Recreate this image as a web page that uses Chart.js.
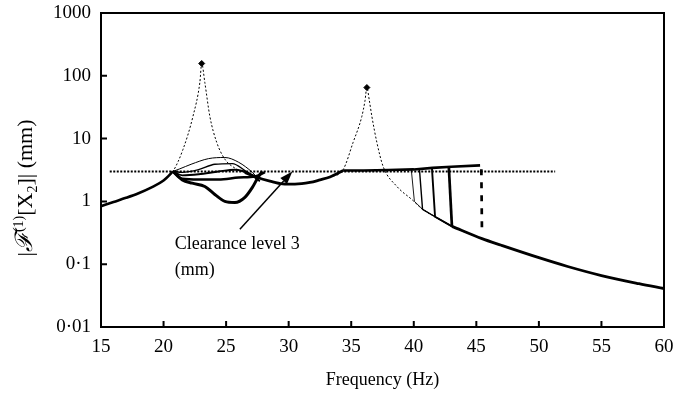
<!DOCTYPE html>
<html>
<head>
<meta charset="utf-8">
<script src="https://cdn.jsdelivr.net/npm/chart.js@4.4.1/dist/chart.umd.min.js"></script>
<style>
  html, body { margin: 0; padding: 0; background: #fff; }
  #wrap { width: 674px; height: 396px; }
</style>
</head>
<body>
<div id="wrap"><canvas id="respChart" width="674" height="396"></canvas></div>
<script>
// axis ticks
const xTicks = [15, 20, 25, 30, 35, 40, 45, 50, 55, 60];
const yTickValues = [0.01, 0.1, 1, 10, 100, 1000];
const yTickLabels = ['0·01', '0·1', '1', '10', '100', '1000'];

// clearance level (mm) and the span of its dotted line (Hz)
const clearance = 3;
const clearanceSpan = [15.7, 51.3];

// linear response [Hz, mm]
const linearResp = [
  [15, 0.84], [16, 0.98], [17, 1.14], [18, 1.35], [19, 1.66], [20, 2.15], [20.75, 3.0],
  [21.55, 6.7], [22.35, 22.6], [22.9, 78], [23.05, 157], [23.3, 78], [23.7, 22.6],
  [24.25, 8.7], [24.9, 4.7], [25.7, 3.4], [26.5, 2.9], [27.5, 2.4], [28.5, 2.1],
  [29.5, 1.9], [30.5, 1.88], [31.7, 2.0], [32.5, 2.2], [33.3, 2.45], [34.35, 3.2],
  [35.15, 8.7], [35.85, 22.6], [36.1, 40], [36.25, 65], [36.45, 40], [36.65, 22.6],
  [37.05, 8.7], [37.55, 3.6], [38.65, 1.73], [39.85, 1.07], [40.7, 0.75], [41.7, 0.57],
  [43.05, 0.4], [45.45, 0.255], [47, 0.2], [50, 0.127], [52.3, 0.092], [55, 0.066],
  [58, 0.049], [60, 0.041]
];
const peaks = [[23.05, 157], [36.25, 65]];

// nonlinear response: common low-frequency rise
const riseResp = [
  [15, 0.84], [16, 0.98], [17, 1.14], [18, 1.35], [19, 1.66], [20, 2.15], [20.75, 3.0]
];
// five impact branches between the two resonances
const branchA = [[20.75, 3.0], [21.3, 3.3], [22.2, 3.9], [23.6, 4.8], [24.9, 5.0], [26.0, 4.2], [27.1, 2.9], [27.5, 2.4]];
const branchB = [[20.75, 3.0], [21.5, 2.9], [22.8, 3.2], [24.1, 3.9], [25.5, 4.0], [26.5, 3.1], [27.5, 2.25]];
const branchC = [[20.75, 3.0], [21.5, 2.6], [22.8, 2.7], [24.4, 3.0], [25.7, 3.2], [26.8, 2.8], [27.7, 2.1]];
const branchD = [[20.75, 3.0], [21.5, 2.3], [22.8, 2.24], [24.4, 2.24], [26.0, 2.4], [27.3, 2.5], [28.1, 2.9]];
const branchE = [[20.75, 3.0], [21.5, 2.2], [22.3, 1.95], [23.3, 1.73], [24.1, 1.29], [24.9, 1.0],
  [25.7, 0.96], [26.5, 1.16], [27.1, 1.67], [27.6, 2.5], [27.9, 3.0]];
// below-clearance stretch and the upper (impacting) branch
const midResp = [[26.5, 2.9], [27.5, 2.4], [28.5, 2.1], [29.5, 1.9], [30.5, 1.88], [31.7, 2.0],
  [32.5, 2.2], [33.3, 2.45], [34.35, 3.1]];
const upperResp = [[34.35, 3.1], [36, 3.1], [38, 3.17], [40, 3.23], [41.5, 3.42], [43, 3.57], [45.3, 3.75]];
// jump-down lines onto the linear curve
const jump1 = [[39.8, 3.23], [40.05, 1.0], [40.7, 0.75], [41.7, 0.57], [43.05, 0.4]];
const jump2 = [[40.45, 3.33], [40.7, 0.75], [41.7, 0.57], [43.05, 0.4]];
const jump3 = [[41.45, 3.45], [41.7, 0.57], [43.05, 0.4]];
const jump4 = [[42.8, 3.57], [43.05, 0.4]];
const jumpDashed = [[45.4, 3.25], [45.45, 0.33]];
const tailResp = [[43.05, 0.4], [45.45, 0.255], [47, 0.2], [50, 0.127], [52.3, 0.092], [55, 0.066], [58, 0.049], [60, 0.041]];

// annotation
const noteLines = ['Clearance level 3', '(mm)'];
const notePos = [20.9, 0.205];
const arrowFrom = [26.1, 0.36];
const arrowTo = [30.3, 3.0];

const pts = arr => arr.map(p => ({ x: p[0], y: p[1] }));

function line(data, width, extra) {
  return Object.assign({
    data: pts(data),
    showLine: true,
    borderColor: '#000',
    backgroundColor: '#000',
    borderWidth: width,
    pointRadius: 0,
    cubicInterpolationMode: 'monotone'
  }, extra || {});
}

const serif = "'Liberation Serif', 'DejaVu Serif', serif";
const straight = { cubicInterpolationMode: 'default', tension: 0 };

// y title pieces: text, font size, baseline shift
const yTitleParts = [
  ['|', 22, 0], ['ℱ', 24, 0], ['(1)', 14, -9], ['[X', 22, 0], ['2', 14, 5], [']| (mm)', 22, 0]
];

// keep label overhang from pushing the plot area in
function noOverhang(s) {
  s.paddingLeft = s.paddingRight = s.paddingTop = s.paddingBottom = 0;
}

// frame, inward ticks, y title, label and arrow
const framePlugin = {
  id: 'frame',
  afterDatasetsDraw(chart) {
    const { ctx, chartArea: a, scales: { x, y } } = chart;
    ctx.save();
    ctx.strokeStyle = '#000';
    ctx.lineWidth = 2;
    ctx.strokeRect(a.left, a.top, a.right - a.left, a.bottom - a.top);
    ctx.beginPath();
    xTicks.forEach(v => {
      const px = x.getPixelForValue(v);
      ctx.moveTo(px, a.bottom);
      ctx.lineTo(px, a.bottom - 6);
    });
    yTickValues.forEach(v => {
      const py = y.getPixelForValue(v);
      ctx.moveTo(a.left, py);
      ctx.lineTo(a.left + 6, py);
    });
    ctx.stroke();

    // arrow to the clearance line
    const x0 = x.getPixelForValue(arrowFrom[0]), y0 = y.getPixelForValue(arrowFrom[1]);
    const x1 = x.getPixelForValue(arrowTo[0]), y1 = y.getPixelForValue(arrowTo[1]);
    const ang = Math.atan2(y1 - y0, x1 - x0);
    const hl = 13, hw = 4.5;
    const bx = x1 - hl * Math.cos(ang), by = y1 - hl * Math.sin(ang);
    ctx.lineWidth = 1.5;
    ctx.beginPath();
    ctx.moveTo(x0, y0);
    ctx.lineTo(bx, by);
    ctx.stroke();
    ctx.fillStyle = '#000';
    ctx.beginPath();
    ctx.moveTo(x1, y1);
    ctx.lineTo(bx + hw * Math.sin(ang), by - hw * Math.cos(ang));
    ctx.lineTo(bx - hw * Math.sin(ang), by + hw * Math.cos(ang));
    ctx.closePath();
    ctx.fill();

    // note text
    ctx.font = '18px ' + serif;
    ctx.textAlign = 'left';
    ctx.textBaseline = 'middle';
    const nx = x.getPixelForValue(notePos[0]), ny = y.getPixelForValue(notePos[1]);
    noteLines.forEach((t, i) => ctx.fillText(t, nx, ny + i * 26));

    // rotated y title with super/subscripts
    ctx.textBaseline = 'alphabetic';
    const fontOf = p => (p[0] === 'ℱ' ? 'italic ' : '') + p[1] + 'px ' + serif;
    let total = 0;
    yTitleParts.forEach(p => { ctx.font = fontOf(p); total += ctx.measureText(p[0]).width; });
    ctx.translate(32, 188);
    ctx.rotate(-Math.PI / 2);
    let cx = -total / 2;
    yTitleParts.forEach(p => {
      ctx.font = fontOf(p);
      ctx.fillText(p[0], cx, p[2]);
      cx += ctx.measureText(p[0]).width;
    });
    ctx.restore();
  }
};

new Chart(document.getElementById('respChart').getContext('2d'), {
  type: 'scatter',
  data: {
    datasets: [
      line(linearResp, 1, { borderDash: [2, 2] }),
      line([[clearanceSpan[0], clearance], [clearanceSpan[1], clearance]], 2, { borderDash: [2, 1.5] }),
      line(riseResp, 2.6),
      line(branchA, 1.0),
      line(branchB, 1.4),
      line(branchC, 1.9),
      line(branchD, 2.5),
      line(branchE, 3.0),
      line(midResp, 2.8),
      line(upperResp, 2.6, straight),
      line(jump1, 0.9, straight),
      line(jump2, 1.4, straight),
      line(jump3, 1.9, straight),
      line(jump4, 2.7, straight),
      line(jumpDashed, 2.7, Object.assign({ borderDash: [6, 7] }, straight)),
      line(tailResp, 2.8),
      {
        data: pts(peaks),
        showLine: false,
        pointStyle: 'rectRot',
        pointRadius: 3,
        pointBackgroundColor: '#000',
        pointBorderColor: '#000'
      }
    ]
  },
  options: {
    responsive: false,
    animation: false,
    devicePixelRatio: 1,
    layout: { padding: { top: 13, right: 10, left: 0, bottom: 0 } },
    plugins: { legend: { display: false }, tooltip: { enabled: false } },
    scales: {
      x: {
        type: 'linear',
        min: 15,
        max: 60,
        grid: { display: false, drawTicks: false },
        border: { display: false },
        afterBuildTicks: s => { s.ticks = xTicks.map(v => ({ value: v })); },
        afterFit: s => { s.height = 69; noOverhang(s); },
        ticks: {
          color: '#000',
          font: { family: serif, size: 19 },
          padding: 9,
          maxRotation: 0,
          callback: v => String(v)
        },
        title: {
          display: true,
          text: 'Frequency (Hz)',
          color: '#000',
          font: { family: serif, size: 18 },
          padding: { top: 0, bottom: 5 }
        }
      },
      y: {
        type: 'logarithmic',
        min: 0.01,
        max: 1000,
        grid: { display: false, drawTicks: false },
        border: { display: false },
        afterBuildTicks: s => { s.ticks = yTickValues.map(v => ({ value: v })); },
        afterFit: s => { s.width = 101; noOverhang(s); },
        ticks: {
          color: '#000',
          font: { family: serif, size: 19 },
          padding: 10,
          callback: (v, i) => yTickLabels[i]
        }
      }
    }
  },
  plugins: [framePlugin]
});
</script>
</body>
</html>
